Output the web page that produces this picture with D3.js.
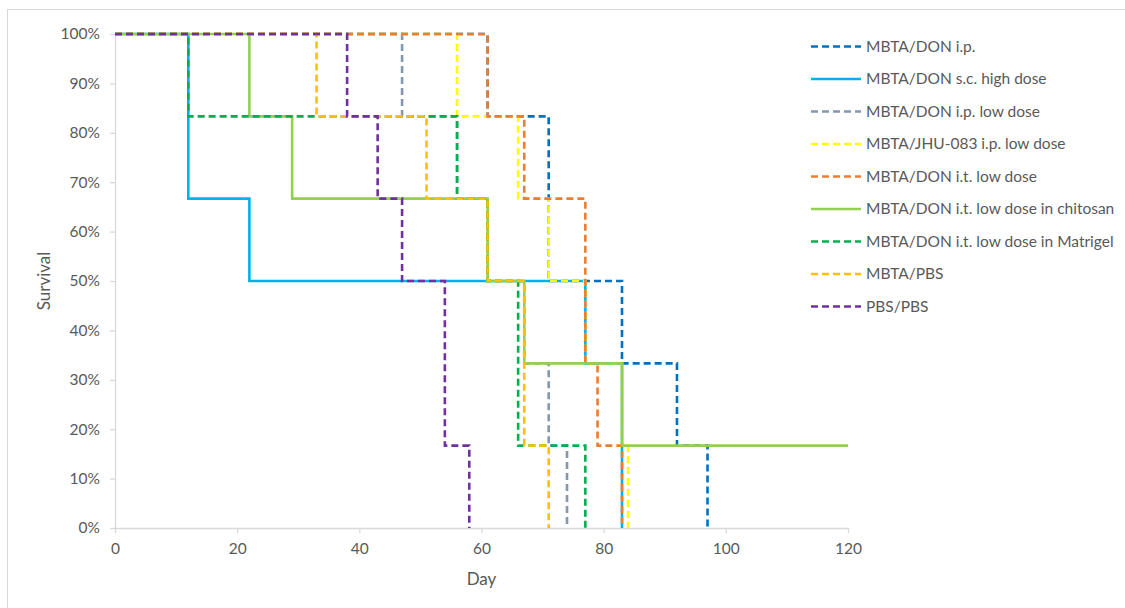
<!DOCTYPE html>
<html>
<head>
<meta charset="utf-8">
<script src="https://cdn.jsdelivr.net/npm/d3@7"></script>
<style>
  body { margin: 0; background: #fff; }
  text { font-family: Lato, "Open Sans", sans-serif; fill: #595959; }
</style>
</head>
<body>
<script>
var width = 1125,
    height = 608;

// survival curves: day of each step and survival (%) after it
var seriesNames = ["MBTA/DON i.p.", "MBTA/DON s.c. high dose", "MBTA/DON i.p. low dose",
  "MBTA/JHU-083 i.p. low dose", "MBTA/DON i.t. low dose", "MBTA/DON i.t. low dose in chitosan",
  "MBTA/DON i.t. low dose in Matrigel", "MBTA/PBS", "PBS/PBS"];
var seriesColors = ["#0070C0", "#00B0F0", "#8497B0", "#FFFF00", "#ED7D31", "#92D050",
  "#00B050", "#FFC000", "#7030A0"];
var seriesDashed = [true, false, true, true, true, false, true, true, true];

var ipDays = [0, 61, 71, 83, 92, 97];
var ipSurv = [100, 83.33, 50, 33.33, 16.67, 0];
var scHighDays = [0, 12, 22, 77, 83];
var scHighSurv = [100, 66.67, 50, 33.33, 0];
var ipLowDays = [0, 47, 56, 61, 67, 71, 74];
var ipLowSurv = [100, 83.33, 66.67, 50, 33.33, 16.67, 0];
var jhuDays = [0, 56, 66, 71, 77, 83, 84];
var jhuSurv = [100, 83.33, 66.67, 50, 33.33, 16.67, 0];
var itLowDays = [0, 61, 67, 77, 79, 83];
var itLowSurv = [100, 83.33, 66.67, 33.33, 16.67, 0];
var chitosanDays = [0, 22, 29, 61, 67, 83, 120];
var chitosanSurv = [100, 83.33, 66.67, 50, 33.33, 16.67, 16.67];
var matrigelDays = [0, 12, 56, 61, 66, 77];
var matrigelSurv = [100, 83.33, 66.67, 50, 16.67, 0];
var mbtaPbsDays = [0, 33, 51, 61, 67, 71];
var mbtaPbsSurv = [100, 83.33, 66.67, 50, 16.67, 0];
var pbsDays = [0, 38, 43, 47, 54, 58];
var pbsSurv = [100, 83.33, 66.67, 50, 16.67, 0];

var allDays = [ipDays, scHighDays, ipLowDays, jhuDays, itLowDays, chitosanDays, matrigelDays, mbtaPbsDays, pbsDays];
var allSurv = [ipSurv, scHighSurv, ipLowSurv, jhuSurv, itLowSurv, chitosanSurv, matrigelSurv, mbtaPbsSurv, pbsSurv];

var xTicks = [0, 20, 40, 60, 80, 100, 120];
var yTicks = [0, 10, 20, 30, 40, 50, 60, 70, 80, 90, 100];

var svg = d3.select('body').append('svg')
    .attr('width', width)
    .attr('height', height);

// chart frame
svg.append('rect')
    .attr('x', 7.5).attr('y', 9.5)
    .attr('width', 1300).attr('height', 800)
    .attr('fill', 'none')
    .attr('stroke', '#d9d9d9');

var x = d3.scaleLinear().domain([0, 120]).range([115, 848]);
var y = d3.scaleLinear().domain([0, 100]).range([528, 34]);

var xAxis = svg.append('g')
    .attr('transform', 'translate(0,528)')
    .call(d3.axisBottom(x).tickValues(xTicks).tickSizeInner(5).tickSizeOuter(0).tickPadding(8));
var yAxis = svg.append('g')
    .attr('transform', 'translate(115,0)')
    .call(d3.axisLeft(y).tickValues(yTicks).tickSizeInner(5).tickSizeOuter(0).tickPadding(10)
      .tickFormat(function(d) { return d + '%'; }));

[xAxis, yAxis].forEach(function(g) {
    g.select('.domain').attr('stroke', '#d9d9d9').attr('stroke-width', 1.3);
    g.selectAll('.tick line').attr('stroke', '#d9d9d9').attr('stroke-width', 1.3);
    g.selectAll('.tick text')
	.style('font-family', 'Lato, "Open Sans", sans-serif')
	.style('font-size', '15.5px')
	.attr('fill', '#595959');
});
xAxis.selectAll('.tick text').attr('dy', '0.85em');

svg.append('text')
    .attr('x', x(60)).attr('y', 585)
    .attr('text-anchor', 'middle')
    .style('font-size', '17px')
    .text('Day');

svg.append('text')
    .attr('transform', 'translate(50,' + y(50) + ') rotate(-90)')
    .attr('text-anchor', 'middle')
    .style('font-size', '17px')
    .text('Survival');

var line = d3.line()
    .x(function(d) { return x(d[0]); })
    .y(function(d) { return y(d[1]); })
    .curve(d3.curveStepAfter);

var plot = svg.append('g');
seriesNames.forEach(function(name, i) {
    var pts = d3.zip(allDays[i], allSurv[i]);
    plot.append('path')
	.attr('d', line(pts))
	.attr('fill', 'none')
	.attr('stroke', seriesColors[i])
	.attr('stroke-width', 2.6)
	.attr('stroke-dasharray', seriesDashed[i] ? '7,4' : null);
});

// legend
var legend = svg.append('g');
seriesNames.forEach(function(name, i) {
    var ly = 46.5 + i * 32.5;
    legend.append('line')
	.attr('x1', 811).attr('x2', 861)
	.attr('y1', ly).attr('y2', ly)
	.attr('stroke', seriesColors[i])
	.attr('stroke-width', 2.6)
	.attr('stroke-dasharray', seriesDashed[i] ? '7,4' : null);
    legend.append('text')
	.attr('x', 866).attr('y', ly)
	.attr('dy', '0.35em')
	.style('font-size', '15.5px')
	.text(name);
});
</script>
</body>
</html>
